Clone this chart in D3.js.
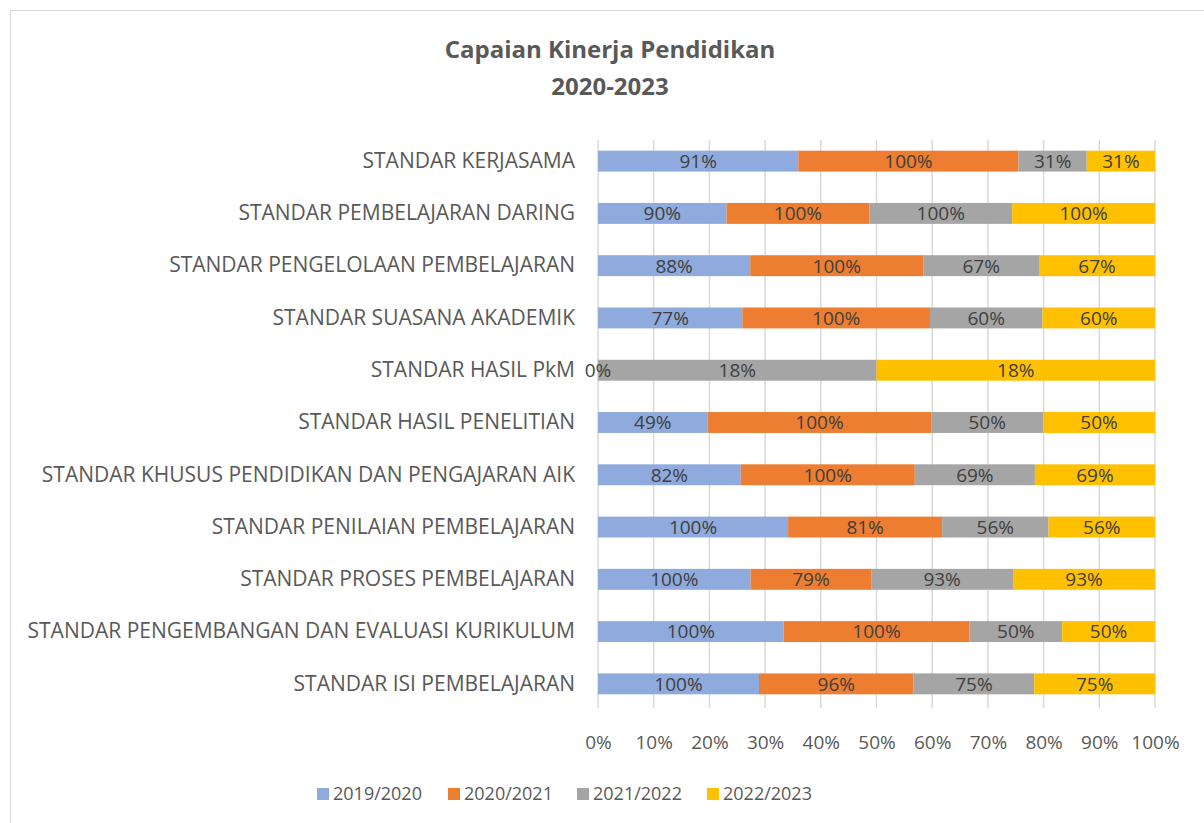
<!DOCTYPE html>
<html>
<head>
<meta charset="utf-8">
<script src="https://cdn.jsdelivr.net/npm/d3@7"></script>
<style>
  body { margin: 0; background: #fff; }
  text { font-family: "Open Sans", sans-serif; }
</style>
</head>
<body>
<div id="chart"></div>
<script>
// categories, top to bottom as drawn
let categories = [
    "STANDAR KERJASAMA",
    "STANDAR PEMBELAJARAN DARING",
    "STANDAR PENGELOLAAN PEMBELAJARAN",
    "STANDAR SUASANA AKADEMIK",
    "STANDAR HASIL PkM",
    "STANDAR HASIL PENELITIAN",
    "STANDAR KHUSUS PENDIDIKAN DAN PENGAJARAN AIK",
    "STANDAR PENILAIAN PEMBELAJARAN",
    "STANDAR PROSES PEMBELAJARAN",
    "STANDAR PENGEMBANGAN DAN EVALUASI KURIKULUM",
    "STANDAR ISI PEMBELAJARAN"
];
let seriesNames = ["2019/2020", "2020/2021", "2021/2022", "2022/2023"];
let v2019 = [91, 90, 88, 77, 0, 49, 82, 100, 100, 100, 100];
let v2020 = [100, 100, 100, 100, null, 100, 100, 81, 79, 100, 96];
let v2021 = [31, 100, 67, 60, 18, 50, 69, 56, 93, 50, 75];
let v2022 = [31, 100, 67, 60, 18, 50, 69, 56, 93, 50, 75];
let tickValues = [0, 0.1, 0.2, 0.3, 0.4, 0.5, 0.6, 0.7, 0.8, 0.9, 1];
let colors = ["#8FAADC", "#ED7D31", "#A5A5A5", "#FFC000"];

let width = 1204;
let height = 823;
let margin = ({ top: 140, bottom: 115, left: 598, right: 49 });

let series = [v2019, v2020, v2021, v2022];
let data = categories.map((name, i) => {
    let row = { name: name };
    seriesNames.forEach((s, j) => row[s] = series[j][i]);
    return row;
});

// 100% stacked
let stack = d3.stack()
    .keys(seriesNames)
    .value((d, key) => d[key] || 0)
    .offset(d3.stackOffsetExpand);
let stacked = stack(data);

let xScale = d3.scaleLinear()
    .domain([0, 1])
    .range([margin.left, width - margin.right]);
let yScale = d3.scaleBand()
    .domain(categories)
    .range([135, 710])
    .paddingInner(0.6)
    .paddingOuter(0.3);

let svg = d3.select("#chart")
    .append("svg")
    .attr("width", width)
    .attr("height", height);

// chart frame
svg.append("rect")
    .attr("x", 10.5).attr("y", 10.5)
    .attr("width", 1200).attr("height", 830)
    .attr("fill", "white")
    .attr("stroke", "#d9d9d9");

// title
svg.append("text")
    .attr("x", 610).attr("y", 58)
    .attr("text-anchor", "middle")
    .attr("font-size", 24).attr("font-weight", "bold")
    .attr("fill", "#595959")
    .text("Capaian Kinerja Pendidikan");
svg.append("text")
    .attr("x", 610).attr("y", 95)
    .attr("text-anchor", "middle")
    .attr("font-size", 24).attr("font-weight", "bold")
    .attr("fill", "#595959")
    .text("2020-2023");

// grid lines
let gridBottom = 708;
svg.append("g")
    .selectAll("line")
    .data(tickValues)
    .join("line")
    .attr("x1", d => xScale(d)).attr("x2", d => xScale(d))
    .attr("y1", margin.top).attr("y2", gridBottom)
    .attr("stroke", "#d9d9d9")
    .attr("stroke-width", 1.5);

// x axis labels
let xAxis = g => g
    .attr("transform", `translate(0,${gridBottom})`)
    .call(d3.axisBottom(xScale).tickValues(tickValues).tickFormat(d3.format(".0%")).tickSize(0).tickPadding(28))
    .call(g => g.select(".domain").remove())
    .call(g => g.selectAll("text")
        .attr("font-family", "Open Sans, sans-serif")
        .attr("font-size", 19)
        .attr("fill", "#595959"));
svg.append("g").call(xAxis);

// y axis labels
let yAxis = g => g
    .attr("transform", `translate(${margin.left},0)`)
    .call(d3.axisLeft(yScale).tickSize(0).tickPadding(23))
    .call(g => g.select(".domain").remove())
    .call(g => g.selectAll("text")
        .attr("font-family", "Open Sans, sans-serif")
        .attr("font-size", 21)
        .attr("fill", "#595959"));
svg.append("g").call(yAxis);

// bars
let layer = svg.append("g")
    .selectAll("g")
    .data(stacked)
    .join("g")
    .attr("fill", (d, i) => colors[i]);

layer.selectAll("rect")
    .data(d => d)
    .join("rect")
    .attr("x", d => xScale(d[0]))
    .attr("y", d => yScale(d.data.name))
    .attr("width", d => xScale(d[1]) - xScale(d[0]))
    .attr("height", yScale.bandwidth());

// data labels
let labels = [];
stacked.forEach(s => {
    s.forEach(d => {
        let v = d.data[s.key];
        if (v === null || v === undefined) return;
        labels.push({ x: (d[0] + d[1]) / 2, name: d.data.name, text: v + "%" });
    });
});
svg.append("g")
    .selectAll("text")
    .data(labels)
    .join("text")
    .attr("x", d => xScale(d.x))
    .attr("y", d => yScale(d.name) + yScale.bandwidth() / 2)
    .attr("dy", "0.36em")
    .attr("text-anchor", "middle")
    .attr("font-size", 19)
    .attr("fill", "#404040")
    .text(d => d.text);

// legend
let legendX = [317, 448, 577, 707];
let legend = svg.append("g")
    .selectAll("g")
    .data(seriesNames)
    .join("g")
    .attr("transform", (d, i) => `translate(${legendX[i]},${794})`);
legend.append("rect")
    .attr("x", 0).attr("y", -6)
    .attr("width", 12).attr("height", 12)
    .attr("fill", (d, i) => colors[i]);
legend.append("text")
    .attr("x", 16).attr("dy", "0.36em")
    .attr("font-size", 18)
    .attr("fill", "#595959")
    .text(d => d);
</script>
</body>
</html>
